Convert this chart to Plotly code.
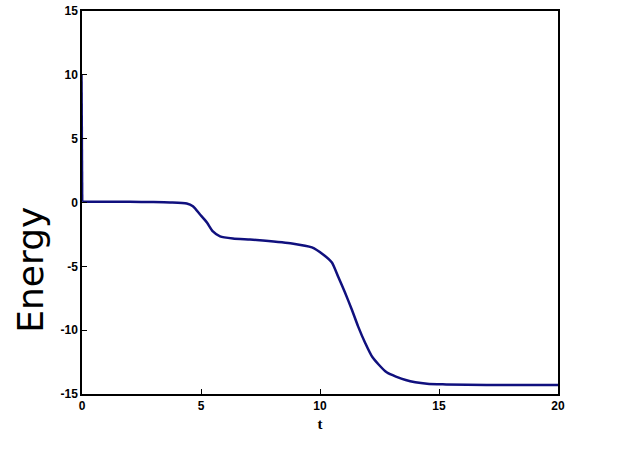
import plotly.graph_objects as go

t = [0, 0.03, 1, 2, 3, 3.7, 4.4, 4.66, 4.96, 5.25, 5.5, 5.8, 6.34, 7.06, 7.6, 8.82,
     9.66, 10.13, 10.5, 10.76, 11.05, 11.34, 11.6, 11.89, 12.2, 12.8, 13.6, 14.5,
     15.3, 17, 20]
energy = [10, 0.05, 0.05, 0.05, 0.03, 0, -0.08, -0.3, -0.94, -1.57, -2.27, -2.66,
          -2.82, -2.9, -2.98, -3.21, -3.52, -4.07, -4.7, -5.8, -7.05, -8.4, -9.7,
          -10.96, -12.1, -13.3, -13.9, -14.2, -14.25, -14.3, -14.3]

x_ticks = [0, 5, 10, 15, 20]
y_ticks = [-15, -10, -5, 0, 5, 10, 15]

line_color = "#10107e"
fig = go.Figure()
# initial spike at t = 0
fig.add_trace(go.Scatter(x=t[:2], y=energy[:2], mode="lines",
                         line=dict(color=line_color, width=1.5)))
fig.add_trace(go.Scatter(x=t[1:], y=energy[1:], mode="lines",
                         line=dict(color=line_color, width=2.5, shape="spline", smoothing=0.6)))

tickfont = dict(family="Liberation Sans", size=12, color="black")
fig.update_layout(
    width=617, height=462,
    margin=dict(l=82, r=59, t=11, b=68),
    paper_bgcolor="white", plot_bgcolor="white",
    showlegend=False,
    xaxis=dict(range=[0, 20], tickvals=x_ticks, ticktext=[f"<b>{v}</b>" for v in x_ticks],
               showline=True, linecolor="black", linewidth=1.5, mirror=True, automargin=False,
               ticks="inside", ticklen=5, tickcolor="black", showgrid=False, zeroline=False,
               tickfont=tickfont,
               title=dict(text="<b>t</b>", font=dict(family="Liberation Serif", size=15, color="black"), standoff=6)),
    yaxis=dict(range=[-15, 15], tickvals=y_ticks, ticktext=[f"<b>{v}</b>" for v in y_ticks],
               showline=True, linecolor="black", linewidth=1.5, mirror=True, automargin=False,
               ticks="inside", ticklen=5, tickcolor="black", showgrid=False, zeroline=False,
               tickfont=tickfont),
    annotations=[dict(text="Energy", textangle=-90, x=-0.108, xref="paper", y=-5.3, yref="y",
                      xanchor="center", yanchor="middle",
                      showarrow=False, font=dict(family="DejaVu Sans", size=36, color="black"))],
)
fig.write_html("out.html", config={"displayModeBar": False},
               post_script="document.body.style.margin='0px';")
